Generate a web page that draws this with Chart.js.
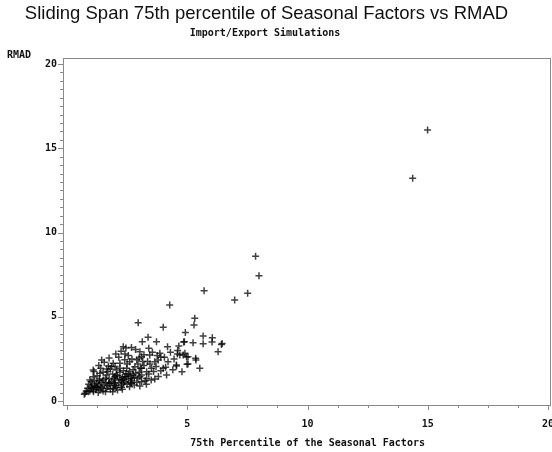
<!DOCTYPE html>
<html>
<head>
<meta charset="utf-8">
<script src="https://cdn.jsdelivr.net/npm/chart.js@4.4.1/dist/chart.umd.min.js"></script>
<style>
  html, body { margin: 0; padding: 0; background: #fff; }
</style>
</head>
<body>
<canvas id="scatterChart" width="552" height="452"></canvas>
<script>
// 75th percentile of the seasonal factors (x) vs RMAD (y)
const pct75 = [
  14.99, 14.37, 7.84, 7.98, 7.51, 6.97, 5.70, 4.27,
  2.96, 4.00, 5.31, 5.28, 4.92, 5.66, 6.04, 3.37, 3.72, 3.13,
  4.18, 4.88, 5.24, 5.66, 6.45, 4.65, 4.90, 6.28, 2.68, 2.34,
  2.03, 2.41, 2.61, 3.03, 3.10, 3.40, 3.44, 3.86, 3.79, 4.20,
  4.55, 4.78, 5.03, 5.36, 5.52, 4.69, 1.44, 1.09, 1.72, 1.92,
  2.20, 2.06, 2.48, 2.82, 3.10, 3.31, 3.51, 3.65, 4.00, 4.14,
  3.31, 3.03, 2.68, 2.48, 2.27, 1.99, 1.65, 1.37, 1.09, 0.95,
  1.23, 1.51, 1.78, 1.99, 2.34, 2.68, 3.03, 1.23, 1.02, 1.09,
  1.37, 1.65, 1.92, 2.27, 0.75, 0.89, 0.72,
  6.42, 6.03, 4.85, 5.35, 4.83, 4.97, 4.99, 4.59, 4.55, 5.03,
  1.05, 1.15, 1.2, 1.3, 1.35, 1.4, 1.45, 1.5, 1.55, 1.6,
  1.62, 1.7, 1.75, 1.8, 1.85, 1.9, 1.95, 2.0, 2.05, 2.1,
  2.15, 2.2, 2.25, 2.3, 2.35, 2.4, 2.45, 2.5, 2.55, 2.6,
  2.65, 2.7, 2.75, 2.8, 2.85, 2.9, 2.95, 3.0, 3.1, 3.2,
  3.25, 3.35, 3.4, 3.5, 3.6, 3.7, 3.8, 3.9, 0.85, 0.9,
  0.95, 1.0, 1.1, 1.25, 1.3, 1.4, 1.5, 1.6, 1.7, 1.8,
  1.9, 2.0, 2.1, 2.2, 2.3, 2.4, 2.5, 2.6, 2.7, 2.8,
  2.9, 3.0, 3.1, 3.2, 3.3, 3.45, 3.55, 3.65, 3.75, 3.9,
  4.05, 4.1, 4.3, 4.4, 4.45, 4.6, 1.12, 1.32, 1.55, 1.75,
  1.85, 2.15, 2.25, 2.55, 2.85, 2.45, 1.95, 2.05, 1.65, 1.35,
  1.15, 2.35, 2.65, 2.75, 3.05, 3.15, 2.95, 1.45, 1.75, 2.0,
  2.2, 2.4, 2.55, 1.0, 0.8, 1.25
];
const rmad = [
  16.08, 13.22, 8.59, 7.44, 6.39, 5.99, 6.55, 5.70,
  4.65, 4.37, 4.91, 4.51, 4.06, 3.86, 3.76, 3.78, 3.52, 3.52,
  3.22, 3.52, 3.46, 3.40, 3.42, 3.26, 2.83, 2.93, 3.17, 3.22,
  2.79, 2.79, 2.33, 2.93, 2.63, 3.13, 2.73, 2.83, 2.43, 2.33,
  2.08, 1.74, 2.20, 2.43, 1.94, 2.73, 2.43, 1.84, 2.08, 2.24,
  2.24, 1.84, 1.94, 2.04, 1.94, 1.74, 1.94, 2.33, 1.94, 1.54,
  1.34, 1.44, 1.34, 1.44, 1.25, 1.44, 1.54, 1.64, 1.44, 1.25,
  1.05, 1.25, 1.05, 1.05, 1.05, 1.05, 0.89, 0.85, 0.75, 0.65,
  0.65, 0.75, 0.75, 0.81, 0.46, 0.55, 0.40,
  3.36, 3.50, 3.50, 2.53, 2.73, 2.61, 2.18, 2.79, 2.14, 2.63,
  0.95, 1.2, 0.7, 0.95, 1.3, 0.85, 1.1, 0.6, 0.95, 1.35,
  1.1, 0.9, 1.3, 0.7, 1.15, 1.6, 0.95, 1.25, 0.8, 1.5,
  1.1, 1.7, 0.95, 1.4, 1.8, 1.15, 1.6, 1.0, 1.3, 1.75,
  1.5, 1.2, 1.85, 1.4, 1.65, 1.1, 2.2, 1.7, 1.55, 2.1,
  1.2, 2.35, 1.6, 1.25, 1.75, 2.05, 1.45, 2.6, 0.75, 1.0,
  0.6, 1.15, 0.55, 1.5, 0.5, 1.95, 1.7, 0.55, 1.75, 1.9,
  0.55, 2.05, 0.65, 1.95, 0.7, 2.45, 2.2, 0.85, 2.5, 0.95,
  2.45, 2.55, 1.15, 2.75, 1.0, 2.2, 2.9, 1.3, 2.7, 1.8,
  2.6, 2.0, 2.9, 1.85, 2.5, 3.0, 1.75, 2.1, 2.3, 2.55,
  2.05, 2.6, 2.95, 2.7, 3.05, 3.15, 1.35, 1.55, 1.9, 1.2,
  0.9, 1.25, 1.1, 1.55, 1.95, 2.35, 1.35, 0.75, 1.05, 0.9,
  1.3, 1.45, 1.6, 0.85, 0.6, 0.8
];
const xTicks = [0, 5, 10, 15, 20];
const yTicks = [0, 5, 10, 15, 20];
const xMinorStep = 1.25;
const yMinorStep = 0.5;

const monoFont = "'DejaVu Sans Mono', monospace";

// frame, tick marks and the text that Chart.js cannot place the SAS way
const sasFrame = {
  id: 'sasFrame',
  afterDraw(chart) {
    const { ctx, chartArea: a, scales } = chart;
    ctx.save();
    ctx.strokeStyle = '#8a8a8a';
    ctx.lineWidth = 1;
    ctx.strokeRect(Math.round(a.left) + 0.5, Math.round(a.top) + 0.5,
      Math.round(a.right - a.left) - 1, Math.round(a.bottom - a.top));

    ctx.beginPath();
    for (let v = 0; v <= 20.001; v += yMinorStep) {
      const y = Math.round(scales.y.getPixelForValue(v)) + 0.5;
      const len = (v % 5 === 0) ? 5 : 3;
      ctx.moveTo(a.left - len, y);
      ctx.lineTo(a.left, y);
    }
    for (let v = 0; v <= 20.001; v += xMinorStep) {
      const x = Math.round(scales.x.getPixelForValue(v)) + 0.5;
      const len = (v % 5 === 0) ? 5 : 3;
      ctx.moveTo(x, a.bottom);
      ctx.lineTo(x, a.bottom + len);
    }
    ctx.stroke();

    ctx.fillStyle = '#111';
    ctx.textAlign = 'center';
    ctx.textBaseline = 'alphabetic';
    ctx.font = "18.5px 'Liberation Sans', Arial, sans-serif";
    ctx.fillText('Sliding Span 75th percentile of Seasonal Factors vs RMAD', 266.5, 18.5);

    ctx.textBaseline = 'middle';
    ctx.font = 'bold 10px ' + monoFont;
    ctx.fillText('Import/Export Simulations', 265, 33.5);

    const xMid = scales.x.getPixelForValue(10);
    ctx.fillText('75th Percentile of the Seasonal Factors', xMid, 443);

    ctx.textAlign = 'left';
    ctx.fillText('RMAD', 7, 55.5);
    ctx.restore();
  }
};

const ctx = document.getElementById('scatterChart').getContext('2d');
new Chart(ctx, {
  type: 'scatter',
  data: {
    datasets: [{
      label: 'RMAD',
      data: pct75.map((x, i) => ({ x: x, y: rmad[i] })),
      pointStyle: 'cross',
      pointRadius: 3.5,
      pointHoverRadius: 3.5,
      borderWidth: 1.5,
      borderColor: 'rgba(0, 0, 0, 0.75)',
      backgroundColor: 'rgba(0, 0, 0, 0.75)'
    }]
  },
  options: {
    responsive: false,
    animation: false,
    devicePixelRatio: 1,
    layout: {
      autoPadding: false,
      padding: { top: 58, right: 1, left: 0, bottom: 0 }
    },
    plugins: {
      legend: { display: false },
      title: { display: false },
      tooltip: { enabled: false }
    },
    scales: {
      x: {
        type: 'linear',
        min: -0.166,
        max: 20.12,
        afterBuildTicks: s => { s.ticks = xTicks.map(v => ({ value: v })); },
        afterFit: s => {
          s.height = 47;
          s.paddingLeft = 0;
          s.paddingRight = 0;
        },
        grid: { display: false, drawTicks: false },
        border: { display: false },
        ticks: {
          color: '#111',
          padding: 13,
          maxRotation: 0,
          autoSkip: false,
          font: { family: monoFont, size: 10, weight: 'bold' }
        }
      },
      y: {
        type: 'linear',
        min: -0.237,
        max: 20.356,
        afterBuildTicks: s => { s.ticks = yTicks.map(v => ({ value: v })); },
        afterFit: s => {
          s.width = 63;
          s.paddingTop = 0;
          s.paddingBottom = 0;
        },
        grid: { display: false, drawTicks: false },
        border: { display: false },
        ticks: {
          color: '#111',
          padding: 6,
          autoSkip: false,
          font: { family: monoFont, size: 10, weight: 'bold' }
        }
      }
    }
  },
  plugins: [sasFrame]
});
</script>
</body>
</html>
